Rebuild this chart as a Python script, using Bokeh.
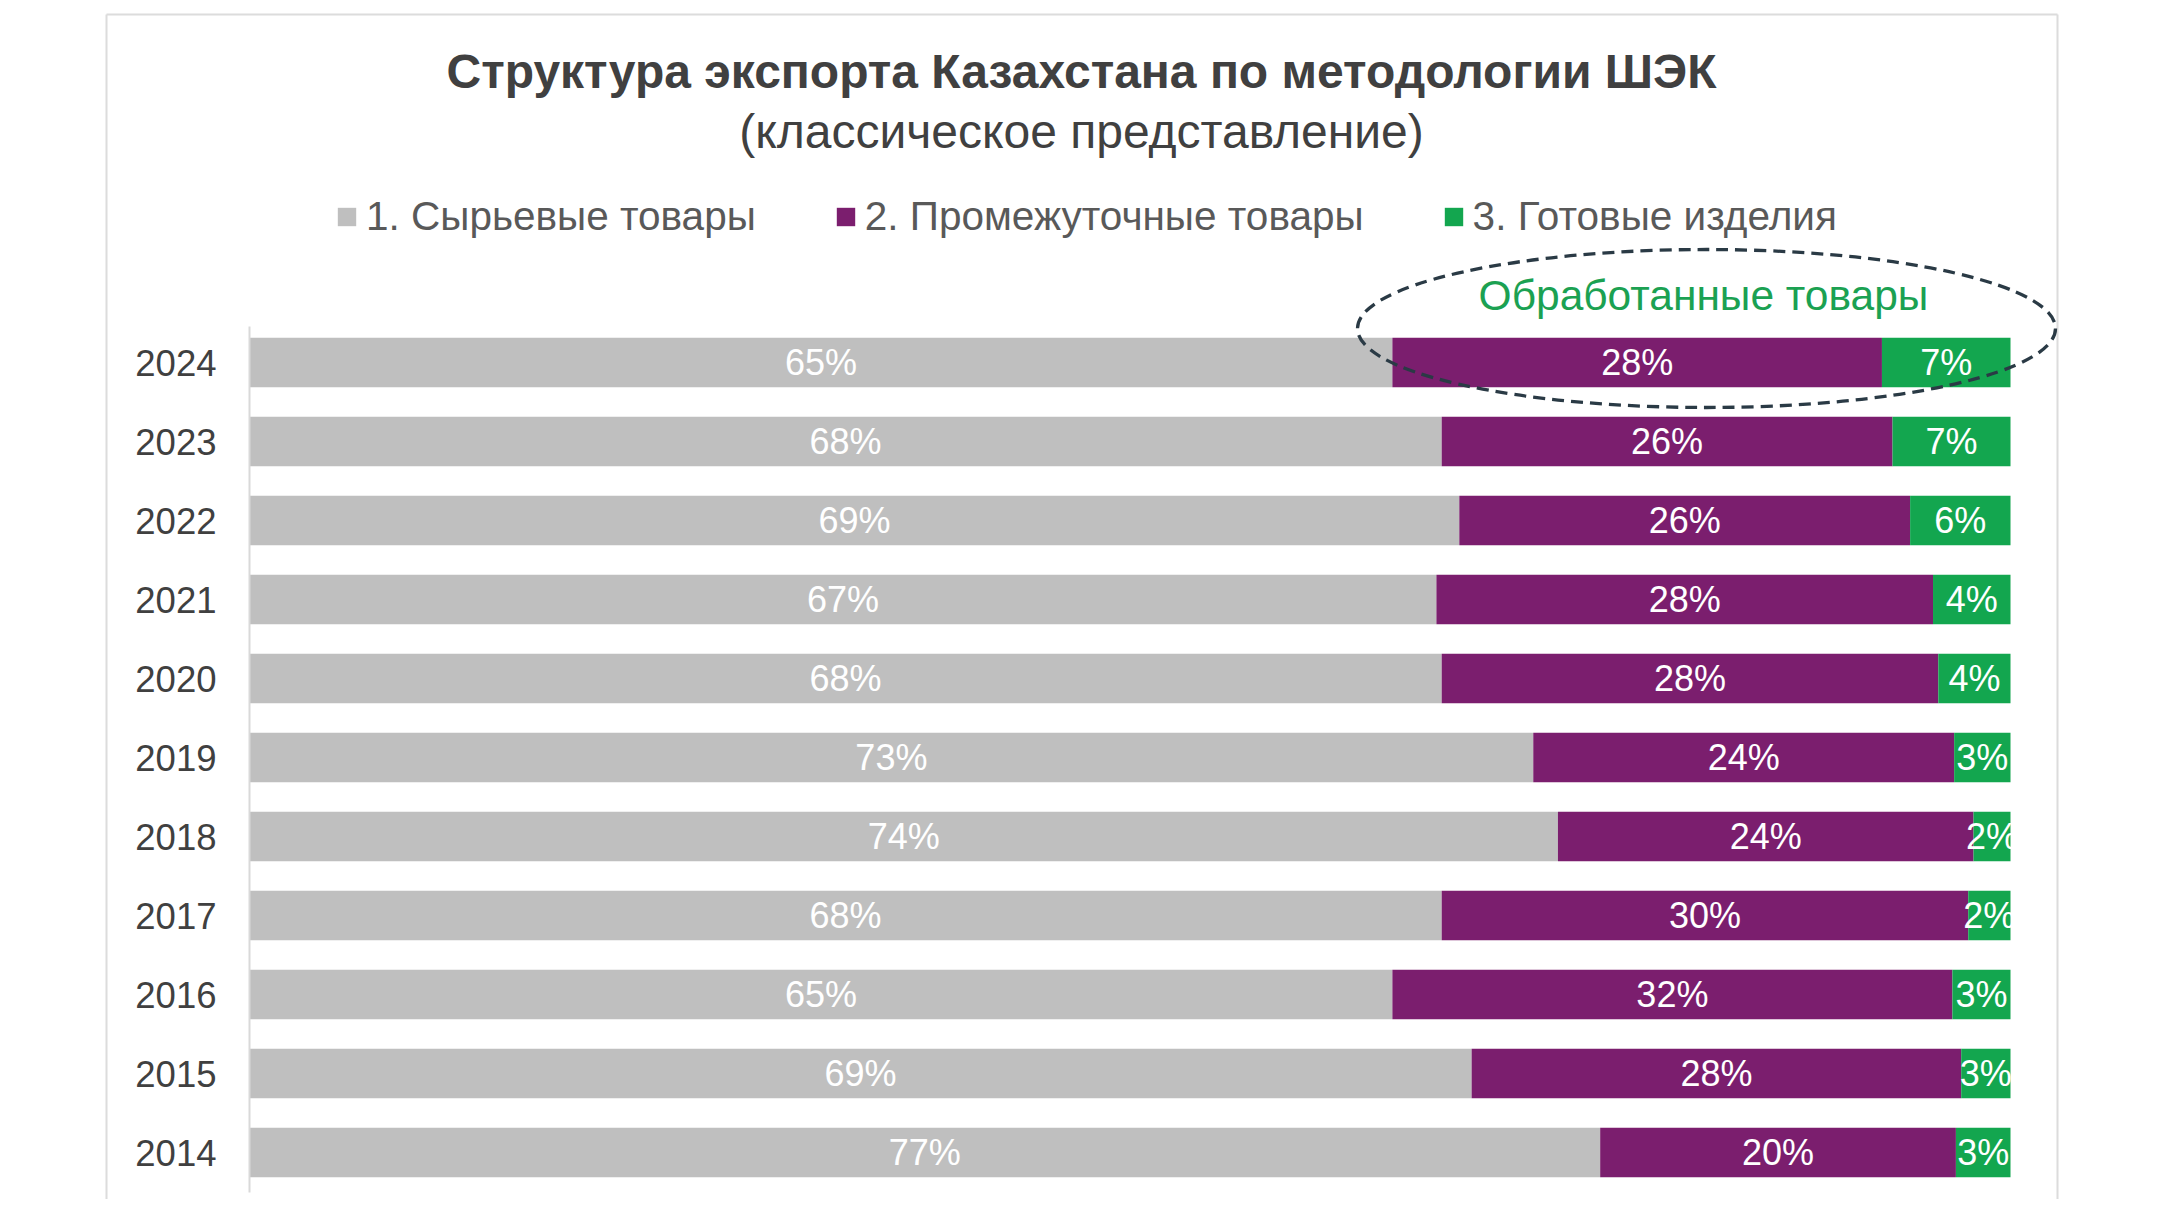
import numpy as np
from bokeh.plotting import figure
from bokeh.models import ColumnDataSource, Range1d
from bokeh.core.properties import value
from bokeh.embed import file_html
from bokeh.resources import INLINE

# data (shares of exports, %), rows from 2014 up to 2024
years = ["2014", "2015", "2016", "2017", "2018", "2019", "2020", "2021", "2022", "2023", "2024"]
raw_share = [76.7, 69.4, 64.9, 67.7, 74.3, 72.9, 67.7, 67.4, 68.7, 67.7, 64.9]
intermediate_share = [20.2, 27.8, 31.8, 29.9, 23.6, 23.9, 28.2, 28.2, 25.6, 25.6, 27.8]
finished_share = [3.1, 2.8, 3.3, 2.4, 2.1, 3.2, 4.1, 4.4, 5.7, 6.7, 7.3]

series_names = ["1. Сырьевые товары", "2. Промежуточные товары", "3. Готовые изделия"]
colors = ["#BFBFBF", "#7B1E6E", "#13A64F"]

title_text = "Структура экспорта Казахстана по методологии ШЭК"
subtitle_text = "(классическое представление)"
highlight_text = "Обработанные товары"

FONT = value("Liberation Sans")

# layout in figure pixels
W, H = 2144, 1199
X0_PX, X100_PX = 249, 2010
ROW_TOP_PX, ROW_STEP = 362, 79.0


def dx(px):
    return (px - X0_PX) / (X100_PX - X0_PX) * 100


def dy(py):
    return (len(years) - 1) - (py - ROW_TOP_PX) / ROW_STEP


def main():
    rows = list(range(len(years)))
    raw = np.array(raw_share)
    mid = np.array(intermediate_share)
    fin = np.array(finished_share)

    source = ColumnDataSource(data=dict(row=rows, raw=raw, mid=mid, fin=fin))

    p = figure(width=W, height=H, output_backend="svg", toolbar_location=None,
               x_range=Range1d(dx(0), dx(W)), y_range=Range1d(dy(H), dy(0)),
               x_axis_location=None, y_axis_location=None, min_border=0,
               tools="")
    p.grid.visible = False
    p.outline_line_color = None
    p.background_fill_color = "white"
    p.border_fill_color = "white"

    # outer frame of the chart
    p.segment(x0=[dx(106), dx(106), dx(2057)], y0=[dy(14), dy(14), dy(14)],
              x1=[dx(106), dx(2057), dx(2057)], y1=[dy(H + 20), dy(14), dy(H + 20)],
              line_color="#DCDCDC", line_width=2)

    # stacked bars
    p.hbar_stack(["raw", "mid", "fin"], y="row", height=0.628, color=colors,
                 line_color=None, source=source, legend_label=series_names)

    # category axis line
    p.segment(x0=[0], y0=[dy(326)], x1=[0], y1=[dy(1192)],
              line_color="#D9D9D9", line_width=2)

    # value labels in the middle of each segment
    lx, ly, lt = [], [], []
    for vals, start in ((raw, 0 * raw), (mid, raw), (fin, raw + mid)):
        for i, v in enumerate(vals):
            lx.append(start[i] + v / 2)
            ly.append(rows[i])
            lt.append(f"{v:.0f}%")
    p.text(x=lx, y=ly, text=lt, text_color="white", text_font=FONT,
           text_font_size="36px", text_align="center", text_baseline="middle")

    # year labels
    p.text(x=[dx(216)] * len(years), y=rows, text=years, text_color="#404040",
           text_font=FONT, text_font_size="36.5px", text_align="right",
           text_baseline="middle")

    # titles
    p.text(x=[dx(1081)], y=[dy(71)], text=[title_text], text_color="#404040",
           text_font=FONT, text_font_size="48px", text_font_style="bold",
           text_align="center", text_baseline="alphabetic")
    p.text(x=[dx(1081)], y=[dy(131)], text=[subtitle_text], text_color="#404040",
           text_font=FONT, text_font_size="48px", text_align="center",
           text_baseline="alphabetic")

    # highlight of processed goods
    p.text(x=[dx(1703)], y=[dy(295)], text=[highlight_text], text_color="#1BA152",
           text_font=FONT, text_font_size="42.5px", text_align="center",
           text_baseline="alphabetic")
    p.ellipse(x=[dx(1706)], y=[dy(328)], width=[dx(2055) - dx(1357)],
              height=[2 * 79 / ROW_STEP], fill_color=None, line_color="#2A3A45",
              line_width=3.3, line_dash="12 7")

    # legend
    lg = p.legend[0]
    lg.orientation = "horizontal"
    lg.location = (335, 959)
    lg.glyph_width = 23
    lg.glyph_height = 23
    lg.label_standoff = 8
    lg.spacing = 78
    lg.padding = 0
    lg.margin = 0
    lg.border_line_color = None
    lg.background_fill_alpha = 0
    lg.label_text_font = "Liberation Sans"
    lg.label_text_font_size = "40.5px"
    lg.label_text_color = "#595959"

    open("out.html", "w").write(file_html(p, INLINE))


if __name__ == '__main__':
    main()
